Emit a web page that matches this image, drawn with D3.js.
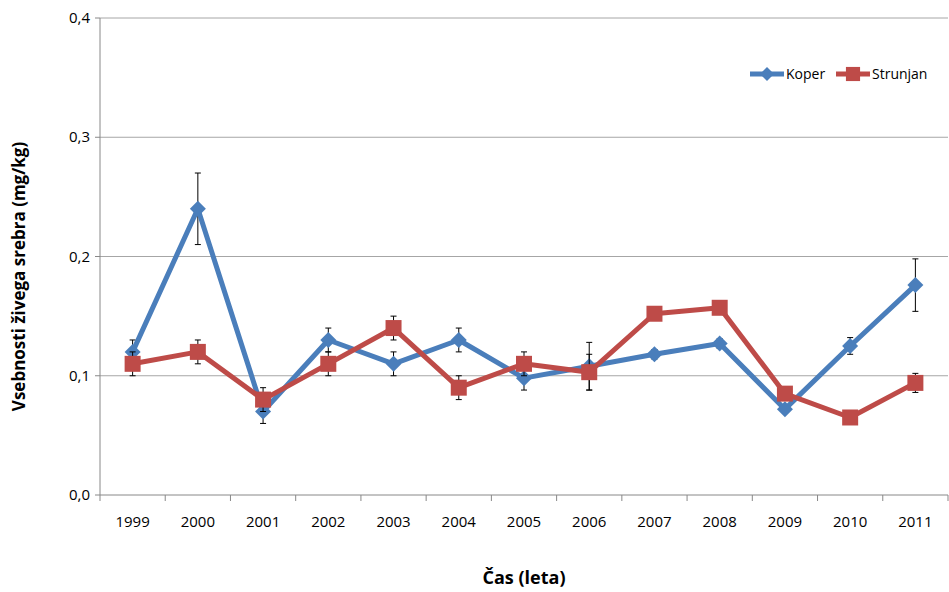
<!DOCTYPE html>
<html><head><meta charset="utf-8">
<script src="https://cdn.jsdelivr.net/npm/d3@7"></script>
<style>body{margin:0;background:#fff}</style></head>
<body><svg id="c" width="949" height="592"></svg>
<script>
const years = ["1999","2000","2001","2002","2003","2004","2005","2006","2007","2008","2009","2010","2011"];
const koper = [0.12,0.24,0.07,0.13,0.11,0.13,0.098,0.108,0.118,0.127,0.072,0.125,0.176];
const koperErr = [0.01,0.03,0.01,0.01,0.01,0.01,0.01,0.02,0.004,0.004,0.003,0.007,0.022];
const strunjan = [0.11,0.12,0.08,0.11,0.14,0.09,0.11,0.103,0.152,0.157,0.085,0.065,0.094];
const strunjanErr = [0.01,0.01,0.01,0.01,0.01,0.01,0.01,0.015,0,0,0,0.004,0.008];
const yTicks = [0,0.1,0.2,0.3,0.4];

const svg = d3.select("#c");
const L=100,R=948,T=18,B=495;
const x = d3.scaleBand().domain(years).range([L,R]);
const y = d3.scaleLinear().domain([0,0.4]).range([B,T]);
const font = "'Open Sans', 'Noto Sans', sans-serif";

svg.append("g").selectAll("line").data(yTicks.slice(1)).join("line")
  .attr("x1",L).attr("x2",R).attr("y1",d=>y(d)).attr("y2",d=>y(d)).attr("stroke","#a6a6a6");
svg.append("line").attr("x1",L).attr("x2",L).attr("y1",T).attr("y2",B).attr("stroke","#888");
svg.append("line").attr("x1",L).attr("x2",R).attr("y1",B).attr("y2",B).attr("stroke","#888");
svg.append("g").selectAll("line").data(yTicks).join("line")
  .attr("x1",L-5).attr("x2",L).attr("y1",d=>y(d)).attr("y2",d=>y(d)).attr("stroke","#888");
svg.append("g").selectAll("text").data(yTicks).join("text")
  .attr("x",L-10).attr("y",d=>y(d)+5).attr("text-anchor","end")
  .style("font",`15px ${font}`).text(d=>d3.format(".1f")(d).replace(".",","));
const bounds = years.map(d=>x(d)).concat([R]);
svg.append("g").selectAll("line").data(bounds).join("line")
  .attr("x1",d=>d).attr("x2",d=>d).attr("y1",B).attr("y2",B+6).attr("stroke","#888");
svg.append("g").selectAll("text").data(years).join("text")
  .attr("x",d=>x(d)+x.bandwidth()/2).attr("y",B+32).attr("text-anchor","middle")
  .style("font",`15px ${font}`).text(d=>d);
svg.append("text").attr("x",(L+R)/2).attr("y",584).attr("text-anchor","middle")
  .style("font",`bold 18px ${font}`).text("Čas (leta)");
svg.append("text").attr("transform",`translate(25,${(T+B)/2+20}) rotate(-90)`).attr("text-anchor","middle")
  .style("font",`bold 17px ${font}`).text("Vsebnosti živega srebra (mg/kg)");

const cx = d=>x(d)+x.bandwidth()/2;
const diamond = s=>`M0,${-s}L${s},0L0,${s}L${-s},0Z`;
function series(vals, errs, color, sq){
  const g = svg.append("g");
  g.selectAll("path.e").data(years).join("path")
    .attr("d",(d,i)=>{const a=y(vals[i]-errs[i]),b=y(vals[i]+errs[i]),c=cx(d);
      return `M${c},${a}V${b}M${c-3},${a}H${c+3}M${c-3},${b}H${c+3}`;})
    .attr("stroke","#000").attr("fill","none");
  g.append("path").datum(vals)
    .attr("d",d3.line().x((v,i)=>cx(years[i])).y(v=>y(v)))
    .attr("stroke",color).attr("stroke-width",5).attr("fill","none").attr("stroke-linejoin","round");
  g.selectAll("path.m").data(vals).join("path")
    .attr("transform",(v,i)=>`translate(${cx(years[i])},${y(v)})`)
    .attr("d",sq?d3.symbol().type(d3.symbolSquare).size(256)():diamond(8))
    .attr("fill",color);
}
series(koper,koperErr,"#4a7ebb",false);
series(strunjan,strunjanErr,"#be4b48",true);

const leg=[["Koper","#4a7ebb",false,750],["Strunjan","#be4b48",true,836]];
leg.forEach(([n,c,sq,lx])=>{
  svg.append("line").attr("x1",lx).attr("x2",lx+34).attr("y1",74).attr("y2",74).attr("stroke",c).attr("stroke-width",5);
  svg.append("path").attr("transform",`translate(${lx+17},74)`).attr("d",sq?d3.symbol().type(d3.symbolSquare).size(200)():diamond(7)).attr("fill",c);
  svg.append("text").attr("x",lx+36).attr("y",79).style("font",`14px ${font}`).text(n);
});
</script></body></html>
